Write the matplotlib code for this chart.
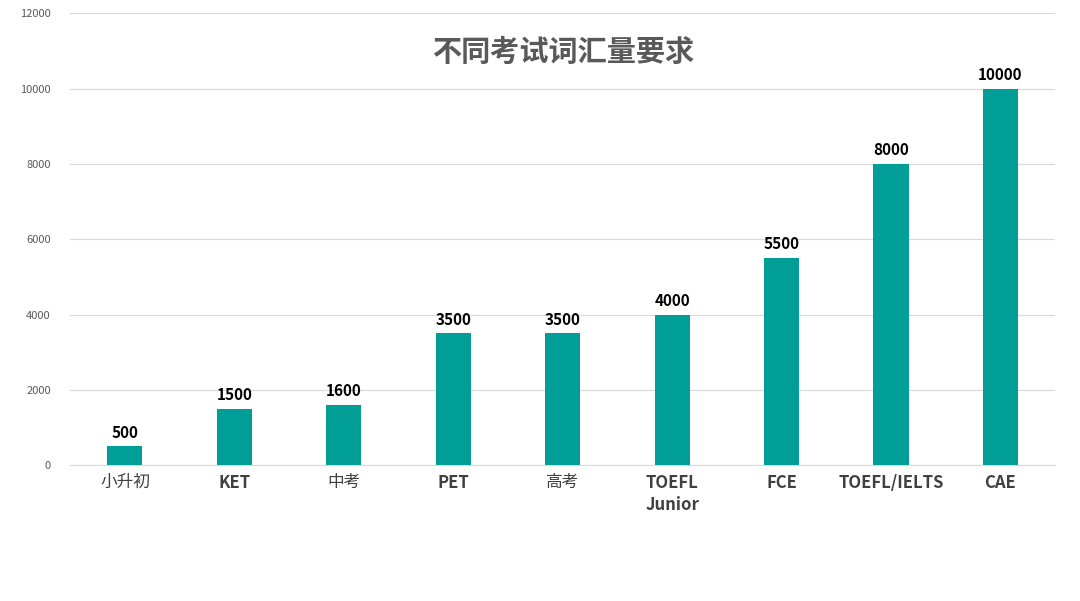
import matplotlib
matplotlib.use("Agg")
import matplotlib.pyplot as plt
from matplotlib import font_manager

cjk = [f.name for f in font_manager.fontManager.ttflist if "CJK" in f.name]
pref = [n for n in cjk if "SC" in n] or cjk
plt.rcParams["font.family"] = (pref[:1] if pref else []) + ["DejaVu Sans"]

exams = ["小升初", "KET", "中考", "PET", "高考", "TOEFL\nJunior", "FCE", "TOEFL/IELTS", "CAE"]
words = [500, 1500, 1600, 3500, 3500, 4000, 5500, 8000, 10000]
yticks = [0, 2000, 4000, 6000, 8000, 10000, 12000]

fig = plt.figure(figsize=(10.8, 6.01), dpi=100)
ax = fig.add_axes([0.065, 0.226, 0.912, 0.752])

x = range(len(exams))
ax.bar(x, words, width=0.32, color="#009E96", zorder=3)
for xi, v in zip(x, words):
    ax.text(xi, v + 150, str(v), ha="center", va="bottom", fontsize=11,
            fontweight="bold", color="black")

ax.set_xlim(-0.5, len(exams) - 0.5)
ax.set_ylim(0, 12000)
ax.set_yticks(yticks)
ax.set_yticklabels([str(t) for t in yticks], fontsize=8, color="#595959")
ax.set_xticks(list(x))
ax.set_xticklabels(exams, fontsize=12, color="#404040", linespacing=1.3)
for lbl in ax.get_xticklabels():
    if lbl.get_text().isascii():
        lbl.set_fontweight("bold")
ax.tick_params(axis="both", length=0, pad=6)
ax.tick_params(axis="y", pad=14)
ax.grid(axis="y", color="#D9D9D9", linewidth=0.8, zorder=0)
for s in ["top", "right", "left"]:
    ax.spines[s].set_visible(False)
ax.spines["bottom"].set_color("#D9D9D9")

ax.text(0.5, 0.915, "不同考试词汇量要求", transform=ax.transAxes, ha="center",
        va="center", fontsize=21, fontweight="bold", color="#595959")

fig.savefig("out.png", dpi=100, facecolor="white")
